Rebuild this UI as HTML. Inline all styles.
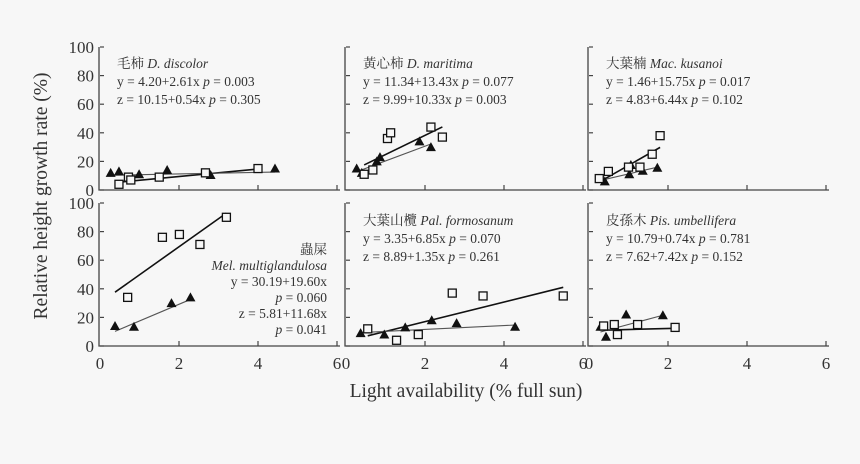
<!DOCTYPE html>
<html><head><meta charset="utf-8"><style>
html,body{margin:0;padding:0;background:#f7f7f7;}
svg{display:block;font-family:"Liberation Serif","Noto Serif CJK SC","Noto Sans CJK TC",serif;}
</style></head><body>
<svg id="chart" width="860" height="464" viewBox="0 0 860 464" xmlns="http://www.w3.org/2000/svg"></svg>
<script>
// ---- data ----
const panelNames = ["毛柿 D. discolor","黃心柿 D. maritima","大葉楠 Mac. kusanoi","蟲屎 Mel. multiglandulosa","大葉山欖 Pal. formosanum","皮孫木 Pis. umbellifera"];
const sqX = [[0.48,0.72,0.78,1.5,2.67,4.0],[0.46,0.68,1.05,1.13,2.15,2.44],[0.26,0.49,1.0,1.29,1.6,1.8],[0.7,1.58,2.01,2.53,3.2],[0.55,1.28,1.83,2.69,3.47,5.5],[0.37,0.64,0.72,1.23,2.18]];
const sqY = [[4,9,7,9,12,15],[11,14,36,40,44,37],[8,13,16,16,25,38],[34,76,78,71,90],[12,4,8,37,35,35],[14,15,8,15,13]];
const trX = [[0.27,0.48,0.99,1.7,2.8,4.43],[0.27,0.4,0.78,0.86,1.86,2.15],[0.4,1.02,1.06,1.36,1.73],[0.38,0.86,1.81,2.29],[0.37,0.97,1.5,2.17,2.8,4.28],[0.29,0.43,0.94,1.87]];
const trY = [[12,13,11,14,10.5,15],[15,12,20,23,34,30],[6,11,17.5,13.5,15.6],[14,13.5,30,34],[9,8,13,18,16,13.5],[13.5,6.5,22,21.5]];
const yA = [4.20,11.34,1.46,30.19,3.35,10.79];
const yB = [2.61,13.43,15.75,19.60,6.85,0.74];
const zA = [10.15,9.99,4.83,5.81,8.89,7.62];
const zB = [0.54,10.33,6.44,11.68,1.35,7.42];
const yLineRange = [[0.48,4.0],[0.46,2.44],[0.26,1.8],[0.38,3.2],[0.55,5.5],[0.37,2.18]];
const zLineRange = [[0.27,4.43],[0.27,2.15],[0.4,1.73],[0.38,2.29],[0.37,4.28],[0.29,1.87]];
const eqY = ["y = 4.20+2.61x","y = 11.34+13.43x","y = 1.46+15.75x","y = 30.19+19.60x","y = 3.35+6.85x","y = 10.79+0.74x"];
const pY = ["0.003","0.077","0.017","0.060","0.070","0.781"];
const eqZ = ["z = 10.15+0.54x","z = 9.99+10.33x","z = 4.83+6.44x","z = 5.81+11.68x","z = 8.89+1.35x","z = 7.62+7.42x"];
const pZ = ["0.305","0.003","0.102","0.041","0.261","0.152"];
const yTicks = [0,20,40,60,80,100];
const xTicks = [0,2,4,6];

const NS="http://www.w3.org/2000/svg";
const svg=document.getElementById('chart');
function mk(t,a,p){const e=document.createElementNS(NS,t);for(const k in a)e.setAttribute(k,a[k]);(p||svg).appendChild(e);return e;}
const colX0=[100,346,589], rowY0=[190,346], rowY100=[47,203];
const ax='#444', tc='#333';
for(let i=0;i<6;i++){
  const c=i%3, r=Math.floor(i/3);
  const sx=v=>colX0[c]+v*39.5;
  const sy=v=>rowY0[r]-(rowY0[r]-rowY100[r])*v/100;
  const g=mk('g',{});
  
  
  // axes
  const a=mk('path',{d:`M${sx(0)-1},${sy(100)} V${sy(0)} H${sx(6)+3}`,stroke:ax,'stroke-width':1.3,fill:'none'},g);
  
  yTicks.forEach(t=>{mk('line',{x1:sx(0),x2:sx(0)+4,y1:sy(t),y2:sy(t),stroke:ax,'stroke-width':1.2},g);
    if(c===0){const tx=mk('text',{x:94,y:sy(t)+6,'text-anchor':'end','font-size':17,fill:tc},g);tx.textContent=t;
      }});
  xTicks.forEach(t=>{if(t>0)mk('line',{x1:sx(t),x2:sx(t),y1:sy(0),y2:sy(0)-5,stroke:ax,'stroke-width':1.2},g);
    if(r===1){const tx=mk('text',{x:sx(t),y:369,'text-anchor':'middle','font-size':17,fill:tc},g);tx.textContent=t;
      }});
  // lines
  const yl=mk('line',{x1:sx(yLineRange[i][0]),y1:sy(yA[i]+yB[i]*yLineRange[i][0]),x2:sx(yLineRange[i][1]),y2:sy(yA[i]+yB[i]*yLineRange[i][1]),stroke:'#111','stroke-width':1.6},g);
  
  const zl=mk('line',{x1:sx(zLineRange[i][0]),y1:sy(zA[i]+zB[i]*zLineRange[i][0]),x2:sx(zLineRange[i][1]),y2:sy(zA[i]+zB[i]*zLineRange[i][1]),stroke:'#555','stroke-width':1.1},g);
  
  trX[i].forEach((x,j)=>{const px=sx(x),py=sy(trY[i][j]);
    const m=mk('path',{d:`M${px},${py-5} L${px+5},${py+4} L${px-5},${py+4}Z`,fill:'#111'},g);
    });
  sqX[i].forEach((x,j)=>{const px=sx(x),py=sy(sqY[i][j]);
    const m=mk('rect',{x:px-4,y:py-4,width:8,height:8,fill:'#f7f7f7',stroke:'#111','stroke-width':1.3},g);
    });
  // annotation
  const parts=panelNames[i].split(' ');const zh=parts[0], sci=parts.slice(1).join(' ');
  if(i!==3){
    const lx=sx(0)+17, ly=r===0?68:225;
    const t1=mk('text',{x:lx,y:ly,'font-size':13.5,fill:tc},g);
    t1.innerHTML=`${zh} <tspan font-style="italic">${sci}</tspan>`;
    
    const t2=mk('text',{x:lx,y:ly+18,'font-size':13.5,fill:tc},g);
    t2.innerHTML=`${eqY[i]}  <tspan font-style="italic">p</tspan> = ${pY[i]}`;
    t2.setAttribute('xml:space','preserve');
    
    const t3=mk('text',{x:lx,y:ly+36,'font-size':13.5,fill:tc},g);
    t3.innerHTML=`${eqZ[i]}  <tspan font-style="italic">p</tspan> = ${pZ[i]}`;
    t3.setAttribute('xml:space','preserve');
    
  } else {
    const rx=327;const lines=[zh,`<tspan font-style="italic">${sci}</tspan>`,eqY[i],`<tspan font-style="italic">p</tspan> = ${pY[i]}`,eqZ[i],`<tspan font-style="italic">p</tspan> = ${pZ[i]}`];
    const nm=['species-label','species-label','y-equation','y-p-value','z-equation','z-p-value'];
    lines.forEach((s,k)=>{const t=mk('text',{x:rx,y:254+k*16,'text-anchor':'end','font-size':13.5,fill:tc},g);t.innerHTML=s;
      });
  }
}
const xt=mk('text',{x:466,y:397,'text-anchor':'middle','font-size':19.5,fill:tc});xt.textContent='Light availability (% full sun)';

const yt=mk('text',{x:0,y:0,'text-anchor':'middle','font-size':19.5,fill:tc,transform:'translate(47,196) rotate(-90)'});yt.textContent='Relative height growth rate (%)';

</script>
</body></html>
